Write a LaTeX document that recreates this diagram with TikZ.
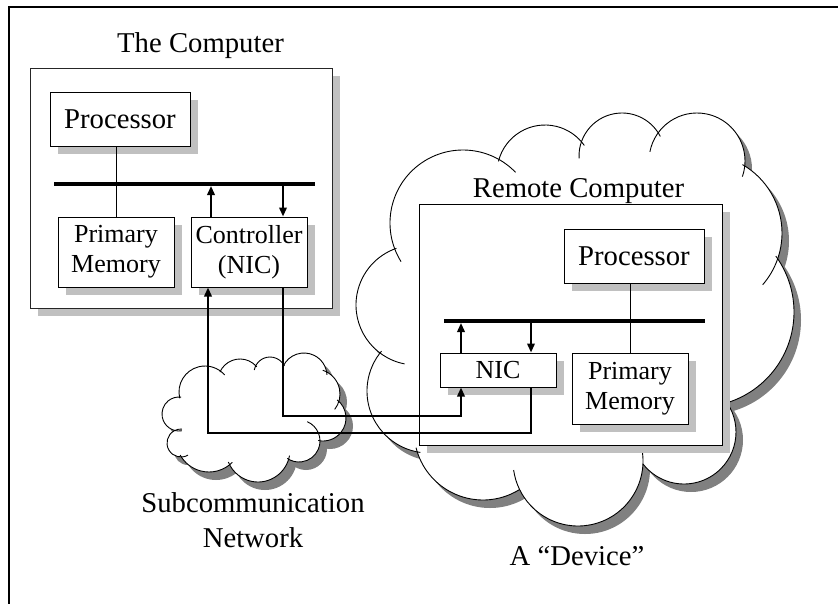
\documentclass[tikz,border=0pt]{standalone}
\usepackage{fontspec}
\setmainfont{Liberation Serif}
\usetikzlibrary{arrows.meta,shadows}
\definecolor{boxshade}{HTML}{C0C0C0}
\definecolor{cloudshade}{HTML}{808080}
\tikzset{
  unit/.style={draw=black, line width=1pt, fill=white, inner sep=0pt, align=center,
    drop shadow={shadow xshift=8pt, shadow yshift=-8pt, fill=boxshade, opacity=1}},
  labeltext/.style={font=\fontsize{28.7}{35}\selectfont, inner sep=0pt, align=center},
  proctext/.style={font=\fontsize{28.7}{33}\selectfont},
  parttext/.style={font=\fontsize{26}{30}\selectfont},
  bus/.style={line width=4pt},
  wire/.style={line width=1pt},
  link/.style={line width=2pt, -{Triangle[length=9pt,width=7.5pt]}},
  outline/.style={line width=0.9pt},
}
% lobes of the large cloud: centre x / centre y / radius
\def\bigcloud{463/223/73, 545/173/48, 622/156/43, 697/161/48, 703/233/79, 699/312/95,
  684/432/52, 578/461/65, 483/431/69, 429/391/62, 416/305/60}
% visible part of each lobe: centre x / centre y / radius / start angle / end angle
\def\bigcloudarcs{463/223/73/148/316, 545/173/48/194/325, 622/156/43/177/333,
  697/161/48/191/379, 703/233/79/300/401, 699/312/95/324/434, 684/432/52/315/502,
  578/461/65/347/532, 483/431/69/58/166, 429/391/62/98/220, 416/305/60/101/251}
% lobes of the small cloud
\def\smallcloud{179/414/17, 205/392/26, 240/381/22, 270/373/16, 304/376/23, 315/394/25,
  323/418/23, 299/441/21, 258/450/32, 209/439/33, 181/443/14}
\def\smallcloudarcs{179/414/17/80/277, 205/392/26/166/319, 240/381/22/204/320,
  270/373/16/191/334, 304/376/23/206/357, 315/394/25/288/398, 323/418/23/308/462,
  299/441/21/293/484, 258/450/32/10/158, 209/439/33/45/151, 181/443/14/60/274}
\begin{document}
\begin{tikzpicture}[x=1pt, y=-1pt]
\useasboundingbox (0,0) rectangle (838,603);

% page frame: only its top and left edges fall on the page
\draw[line width=2.5pt, line join=miter] (9,612) -- (9,7) -- (846,7);

% ---- the computer ----
\node[unit, draw=black!85, minimum width=302pt, minimum height=240pt] (comp) at (181,188) {};
\node[unit, proctext, minimum width=140pt, minimum height=54pt] (proc) at (120,119) {Processor};
\node[unit, parttext, minimum width=116pt, minimum height=70pt] (mem) at (116,252) {Primary\\Memory};
\node[unit, parttext, minimum width=116pt, minimum height=70pt] (ctrl) at (249,252) {Controller\\(NIC)};
\coordinate (busL) at (54,184);
\coordinate (busR) at (315,184);
\draw[bus] (busL) -- (busR);
\draw[wire] (mem.north |- proc.south) -- (mem.north);
\coordinate (busUp) at (211,186);
\coordinate (busDn) at (283,186);
\draw[link] (ctrl.north -| busUp) -- (busUp);
\draw[link] (busDn) -- (ctrl.north -| busDn);

% ---- the large cloud ("device") ----
\begin{scope}[shift={(7,8)}]
  \fill[cloudshade] (463,223) -- (545,173) -- (622,156) -- (697,161) -- (703,233) -- (699,312)
    -- (684,432) -- (578,461) -- (483,431) -- (429,391) -- (416,305) -- cycle;
  \foreach \cx/\cy/\r in \bigcloud \fill[cloudshade] (\cx,\cy) circle[radius=\r];
\end{scope}
\fill[white] (463,223) -- (545,173) -- (622,156) -- (697,161) -- (703,233) -- (699,312)
  -- (684,432) -- (578,461) -- (483,431) -- (429,391) -- (416,305) -- cycle;
\foreach \cx/\cy/\r in \bigcloud \fill[white] (\cx,\cy) circle[radius=\r];
\foreach \cx/\cy/\r/\a/\b in \bigcloudarcs
  \draw[outline] ({\cx+\r*cos(\a)},{\cy+\r*sin(\a)}) arc[start angle=\a, end angle=\b, radius=\r];

% ---- the remote computer ----
\node[unit, minimum width=303pt, minimum height=241pt] (remote) at (570.5,324.5) {};
\node[unit, proctext, minimum width=140pt, minimum height=54pt] (rproc) at (634,256) {Processor};
\node[unit, parttext, minimum width=116pt, minimum height=34pt] (nic) at (498,370) {NIC};
\node[unit, parttext, minimum width=116pt, minimum height=71pt] (rmem) at (630,388.5) {Primary\\Memory};
\coordinate (rbusL) at (444,321);
\coordinate (rbusR) at (705,321);
\draw[bus] (rbusL) -- (rbusR);
\draw[wire] (rmem.north |- rproc.south) -- (rmem.north);
\coordinate (rbusUp) at (461,323);
\coordinate (rbusDn) at (531,323);
\draw[link] (nic.north -| rbusUp) -- (rbusUp);
\draw[link] (rbusDn) -- (nic.north -| rbusDn);

% ---- the small cloud (subcommunication network) ----
\begin{scope}[shift={(7,8)}]
  \fill[cloudshade] (179,414) -- (205,392) -- (240,381) -- (270,373) -- (304,376) -- (315,394)
    -- (323,418) -- (299,441) -- (258,450) -- (209,439) -- (181,443) -- cycle;
  \foreach \cx/\cy/\r in \smallcloud \fill[cloudshade] (\cx,\cy) circle[radius=\r];
\end{scope}
\fill[white] (179,414) -- (205,392) -- (240,381) -- (270,373) -- (304,376) -- (315,394)
  -- (323,418) -- (299,441) -- (258,450) -- (209,439) -- (181,443) -- cycle;
\foreach \cx/\cy/\r in \smallcloud \fill[white] (\cx,\cy) circle[radius=\r];
\foreach \cx/\cy/\r/\a/\b in \smallcloudarcs
  \draw[outline] ({\cx+\r*cos(\a)},{\cy+\r*sin(\a)}) arc[start angle=\a, end angle=\b, radius=\r];

% ---- links between the two network controllers ----
\coordinate (retA) at (531,433);
\coordinate (retB) at (208,433);
\coordinate (outA) at (283,416);
\coordinate (outB) at (461,416);
\draw[link] (nic.south -| retA) -- (retA) -- (retB) -- (ctrl.south -| retB);
\draw[link] (ctrl.south -| outA) -- (outA) -- (outB) -- (nic.south -| outB);

% ---- captions ----
\node[labeltext, anchor=base] (tcomp) at (200.5,52) {The Computer};
\node[labeltext, anchor=base] (trem) at (578.5,197) {Remote Computer};
\node[labeltext, anchor=north] (tnet) at (253,492.5) {Subcommunication\\Network};
\node[labeltext, anchor=base] (tdev) at (577,565) {A “Device”};
\end{tikzpicture}
\end{document}
